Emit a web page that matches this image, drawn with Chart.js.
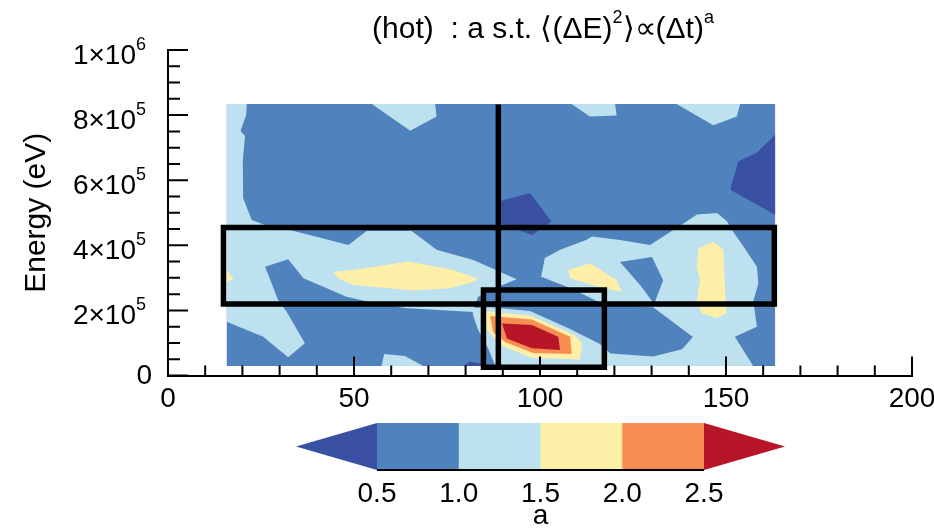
<!DOCTYPE html>
<html>
<head>
<meta charset="utf-8">
<script src="https://cdn.jsdelivr.net/npm/chart.js@4"></script>
<style>
  html, body { margin: 0; padding: 0; background: #fff; }
</style>
</head>
<body>
<canvas id="myChart" width="934" height="532"></canvas>
<script>
// colour classes of the exponent a: <0.5, 0.5-1, 1-1.5, 1.5-2, 2-2.5, >2.5
const classColours = ['#3a50a2', '#5082be', '#bde1ee', '#feefa8', '#f98e52', '#b61628'];
const levelLabels = ['0.5', '1.0', '1.5', '2.0', '2.5'];
// y tick labels: mantissa part and power of ten
const yTickBase = ['0', '2×10', '4×10', '6×10', '8×10', '1×10'];
const yTickPower = ['', '5', '5', '5', '5', '6'];

// contour regions, as [x, energy / 1e5 eV]
const footprint = [[15.8, 0.29], [163.2, 0.29], [163.2, 8.34], [15.8, 8.34]];
const westBand = [[15.8, 8.34], [21.2, 8.34], [21.0, 8.0], [19.5, 7.51], [20.7, 7.36], [20.1, 6.59], [20.2, 5.45], [22.5, 4.78], [26.1, 4.62], [32.8, 4.47], [48.5, 4.01], [53.4, 4.44], [65.5, 4.44], [72.2, 3.86], [82.1, 3.55], [93.7, 2.96], [89.3, 2.75], [83.3, 2.41], [82.0, 1.95], [63.7, 2.07], [54.3, 2.26], [48.0, 2.42], [36.4, 2.99], [32.3, 3.57], [26.1, 3.34], [29.6, 2.32], [31.9, 1.96], [36.8, 0.99], [32.3, 0.56], [25.6, 1.19], [15.8, 1.65]];
const northPatchA = [[54.8, 8.34], [65.1, 7.52], [72.2, 7.96], [71.8, 8.34]];
const northPatchB = [[108.5, 8.34], [113.4, 7.96], [120.6, 7.99], [120.2, 8.34]];
const northPatchC = [[136.7, 8.34], [146.6, 7.69], [152.9, 7.96], [153.8, 8.34]];
const southPatch = [[57.4, 0.29], [58.1, 0.66], [63.7, 0.60], [68.6, 0.29]];
const eastBand = [[100.3, 3.03], [101.3, 3.61], [105.4, 3.86], [112.4, 4.16], [114.0, 4.27], [121.5, 4.16], [129.6, 4.01], [135.0, 4.41], [139.3, 4.72], [142.2, 4.95], [147.6, 4.99], [150.3, 4.73], [151.6, 4.47], [154.7, 3.96], [158.3, 3.34], [158.7, 2.83], [157.3, 2.27], [157.8, 1.91], [158.3, 1.50], [152.4, 1.19], [157.3, 0.29], [111.6, 0.29], [116.9, 2.20], [108.1, 2.69]];
const eastHole = [[115.6, 2.23], [130.4, 2.10], [141.1, 1.18], [138.2, 0.81], [130.4, 0.58], [113.4, 0.72], [112.1, 1.40]];
const eastNotch = [[121.5, 3.49], [130.1, 3.64], [133.1, 2.93], [130.7, 2.20], [126.9, 2.78]];
const halo = [[81.7, 2.07], [86.6, 2.10], [97.3, 1.98], [108.1, 1.43], [116.1, 0.97], [118.8, 0.69], [118.3, 0.29], [88.0, 0.29], [86.0, 0.85], [83.4, 1.40], [82.1, 1.81]];
const yellowEdge = [[15.8, 3.24], [17.6, 2.97], [15.8, 2.84]];
const yellowBand = [[44.4, 3.19], [49.8, 3.24], [64.6, 3.50], [76.7, 3.24], [83.4, 2.97], [82.1, 2.88], [75.8, 2.68], [65.9, 2.61], [49.8, 2.78], [45.8, 2.99]];
const yellowMid = [[107.6, 3.24], [113.4, 3.45], [120.6, 2.93], [122.0, 2.57], [117.0, 2.68], [108.1, 2.99]];
const yellowEast = [[142.6, 3.91], [146.6, 4.11], [149.3, 3.86], [149.7, 2.73], [150.2, 1.91], [147.5, 1.76], [143.5, 1.91], [142.1, 2.27], [143.0, 2.93], [142.1, 3.34]];
const hotYellow = [[84.7, 1.98], [97.3, 1.84], [109.4, 1.24], [111.3, 1.00], [110.8, 0.49], [97.9, 0.54], [89.3, 0.94], [85.8, 1.40]];
const hotOrange = [[86.6, 1.83], [97.8, 1.72], [108.1, 1.19], [108.5, 0.66], [98.2, 0.69], [90.6, 1.03], [87.4, 1.34]];
const hotRed = [[89.8, 1.60], [97.8, 1.55], [104.9, 1.19], [105.4, 0.78], [97.8, 0.84], [91.1, 1.14]];
const darkEast = [[163.2, 7.40], [158.3, 6.84], [153.3, 6.58], [151.1, 5.71], [163.2, 4.94]];
const darkMid = [[88.4, 5.33], [97.3, 5.61], [103.1, 4.73], [97.8, 4.32], [88.4, 4.72]];
const darkFoot = [[79.3, 0.29], [81.2, 0.42], [83.9, 0.38], [85.2, 0.29]];

// black overlay marks
const wideBox = [[14.9, 4.55], [163.0, 4.55], [163.0, 2.20], [14.9, 2.20], [14.9, 4.55]];
const narrowBox = [[84.8, 2.63], [117.3, 2.63], [117.3, 0.25], [84.8, 0.25], [84.8, 2.63]];
const cutLine = [[88.8, 8.24], [88.8, 0.25]];

// paint order: region, colour class
const layers = [
  [footprint, 1], [westBand, 2], [northPatchA, 2], [northPatchB, 2], [northPatchC, 2],
  [southPatch, 2], [eastBand, 2], [eastHole, 1], [eastNotch, 1], [halo, 2],
  [yellowEdge, 3], [yellowBand, 3], [yellowMid, 3], [yellowEast, 3],
  [hotYellow, 3], [hotOrange, 4], [hotRed, 5],
  [darkEast, 0], [darkMid, 0], [darkFoot, 0]
];

const toPoints = arr => arr.map(([x, y]) => ({x: x, y: y}));

const datasets = layers.map(([pts, c]) => ({
  data: toPoints(pts),
  poly: true,
  backgroundColor: classColours[c],
  pointRadius: 0,
  showLine: false
}));
[wideBox, narrowBox, cutLine].forEach(pts => datasets.push({
  data: toPoints(pts),
  showLine: true,
  borderColor: '#000',
  borderWidth: 5.5,
  borderCapStyle: 'square',
  borderJoinStyle: 'miter',
  pointRadius: 0,
  fill: false
}));

const FONT = "'Liberation Sans', Arial, sans-serif";
Chart.defaults.font.family = FONT;
Chart.defaults.color = '#000';

// fill the contour polygons from the points the scales placed
const polygonFill = {
  id: 'polygonFill',
  beforeDatasetsDraw(chart) {
    const ctx = chart.ctx;
    chart.data.datasets.forEach((ds, i) => {
      if (!ds.poly) return;
      const pts = chart.getDatasetMeta(i).data;
      ctx.save();
      ctx.beginPath();
      pts.forEach((p, j) => j ? ctx.lineTo(p.x, p.y) : ctx.moveTo(p.x, p.y));
      ctx.closePath();
      ctx.fillStyle = ds.backgroundColor;
      ctx.fill();
      ctx.restore();
    });
  }
};

// inward major/minor ticks
const inwardTicks = {
  id: 'inwardTicks',
  afterDatasetsDraw(chart) {
    const {ctx, chartArea, scales: {x, y}} = chart;
    ctx.save();
    ctx.strokeStyle = '#000';
    ctx.lineWidth = 2;
    ctx.beginPath();
    for (let v = 0; v <= 200; v += 10) {
      const px = x.getPixelForValue(v);
      const len = v % 50 === 0 ? 19 : 10;
      ctx.moveTo(px, chartArea.bottom);
      ctx.lineTo(px, chartArea.bottom - len);
    }
    for (let v = 0; v <= 10; v += 0.5) {
      const py = y.getPixelForValue(v);
      const len = v % 2 === 0 ? 20 : 12;
      ctx.moveTo(chartArea.left, py);
      ctx.lineTo(chartArea.left + len, py);
    }
    ctx.stroke();
    ctx.restore();
  }
};

// y tick labels with raised powers of ten
const powerLabels = {
  id: 'powerLabels',
  afterDraw(chart) {
    const {ctx, scales: {y}} = chart;
    ctx.save();
    ctx.fillStyle = '#000';
    ctx.textAlign = 'right';
    ctx.textBaseline = 'alphabetic';
    y.ticks.forEach((t, i) => {
      const py = y.getPixelForValue(t.value);
      if (!yTickPower[i]) {
        ctx.font = '28px ' + FONT;
        ctx.textBaseline = 'middle';
        ctx.fillText(yTickBase[i], 152, py + 1);
        ctx.textBaseline = 'alphabetic';
        return;
      }
      ctx.font = '18px ' + FONT;
      const pw = ctx.measureText(yTickPower[i]).width;
      ctx.fillText(yTickPower[i], 146, py);
      ctx.font = '28px ' + FONT;
      ctx.fillText(yTickBase[i], 146 - pw, py + 14);
    });
    ctx.restore();
  }
};

// title with superscripts
const titleLine = {
  id: 'titleLine',
  afterDraw(chart) {
    const ctx = chart.ctx;
    const parts = [
      ['(hot)  : a s.t. \u27E8(\u0394E)', false], ['2', true],
      ['\u27E9\u221D(\u0394t)', false], ['a', true]
    ];
    const big = '30px ' + FONT, small = '18px ' + FONT;
    ctx.save();
    let w = 0;
    parts.forEach(([t, sup]) => { ctx.font = sup ? small : big; w += ctx.measureText(t).width; });
    let cx = 543 - w / 2;
    const base = 38;
    ctx.fillStyle = '#000';
    ctx.textBaseline = 'alphabetic';
    parts.forEach(([t, sup]) => {
      ctx.font = sup ? small : big;
      ctx.fillText(t, cx, sup ? base - 15 : base);
      cx += ctx.measureText(t).width;
    });
    ctx.restore();
  }
};

// horizontal colour bar with triangular ends
const colourBar = {
  id: 'colourBar',
  afterDraw(chart) {
    const ctx = chart.ctx;
    const left = 377, right = 704, top = 423, bottom = 470, tip = 81;
    const step = (right - left) / (levelLabels.length - 1);
    const mid = (top + bottom) / 2;
    ctx.save();
    ctx.fillStyle = classColours[0];
    ctx.beginPath();
    ctx.moveTo(left, top); ctx.lineTo(left - tip, mid); ctx.lineTo(left, bottom); ctx.closePath();
    ctx.fill();
    for (let i = 1; i < classColours.length - 1; i++) {
      ctx.fillStyle = classColours[i];
      ctx.fillRect(left + (i - 1) * step, top, step + 0.5, bottom - top);
    }
    ctx.fillStyle = classColours[classColours.length - 1];
    ctx.beginPath();
    ctx.moveTo(right, top); ctx.lineTo(right + tip, mid); ctx.lineTo(right, bottom); ctx.closePath();
    ctx.fill();
    ctx.strokeStyle = '#000';
    ctx.lineWidth = 2;
    ctx.beginPath();
    ctx.moveTo(left, bottom); ctx.lineTo(right, bottom);
    ctx.stroke();
    ctx.fillStyle = '#000';
    ctx.font = '28px ' + FONT;
    ctx.textAlign = 'center';
    ctx.textBaseline = 'middle';
    levelLabels.forEach((t, i) => ctx.fillText(t, left + i * step, 494));
    ctx.fillText('a', (left + right) / 2, 516);
    ctx.restore();
  }
};

const ctx = document.getElementById('myChart').getContext('2d');

const myChart = new Chart(ctx, {
  type: 'scatter',
  data: { datasets: datasets },
  plugins: [polygonFill, inwardTicks, powerLabels, titleLine, colourBar],
  options: {
    responsive: false,
    animation: false,
    layout: { padding: { top: 50, right: 0, bottom: 0, left: 0 } },
    plugins: {
      legend: { display: false },
      tooltip: { enabled: false }
    },
    scales: {
      x: {
        type: 'linear',
        min: 0,
        max: 200,
        ticks: { stepSize: 50, autoSkip: false, maxRotation: 0, padding: 7, font: { size: 28 } },
        grid: { display: false, drawTicks: false },
        border: { display: true, color: '#000', width: 2 },
        afterFit: s => { s.height = 156.5; s.paddingLeft = 0; s.paddingRight = 22; }
      },
      y: {
        type: 'linear',
        min: 0,
        max: 10,
        ticks: { stepSize: 2, display: false },
        grid: { display: false, drawTicks: false },
        border: { display: true, color: '#000', width: 2 },
        title: { display: true, text: 'Energy (eV)', font: { size: 30 }, padding: { top: 19, bottom: 0 } },
        afterFit: s => { s.width = 168; s.paddingTop = 0; s.paddingBottom = 0; }
      }
    }
  }
});
</script>
</body>
</html>
